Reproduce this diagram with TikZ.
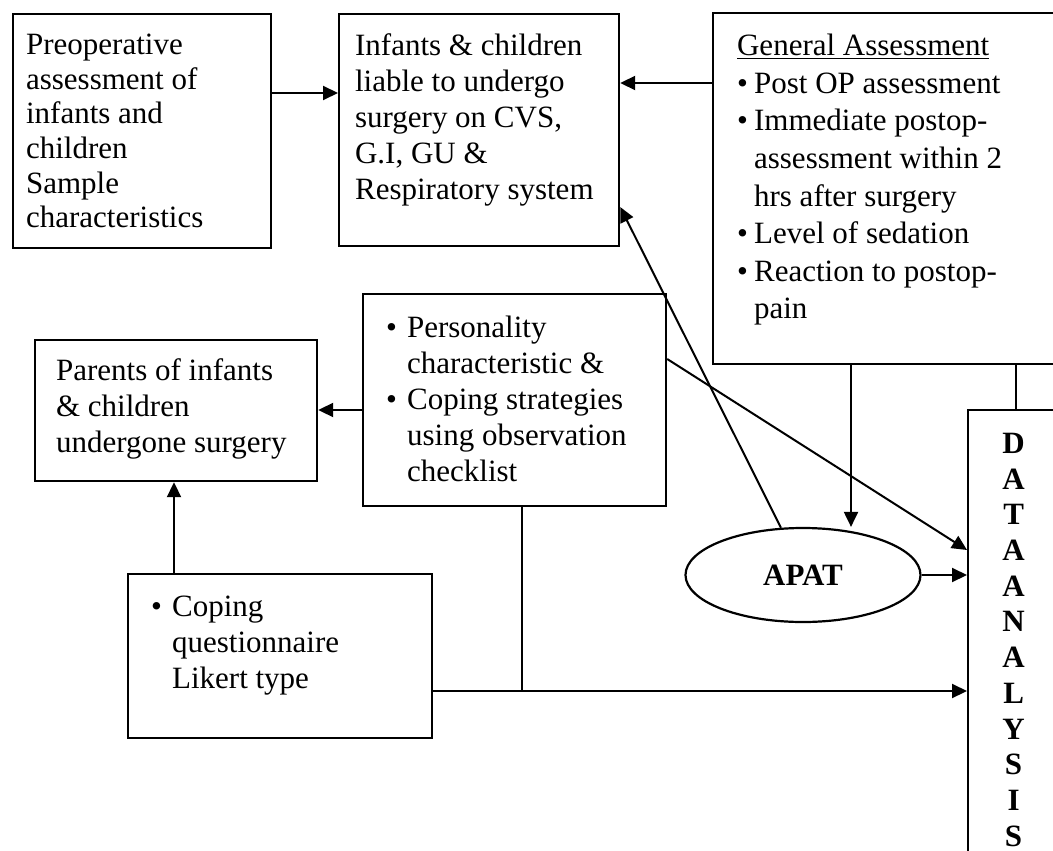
\documentclass[tikz,border=0pt]{standalone}
\usepackage{fontspec}
\setmainfont{Liberation Serif}
\usepackage{tikz}
\usetikzlibrary{shapes.geometric,arrows.meta,calc}

\newlength{\bulw}
\setlength{\bulw}{10.5pt}
\newcommand{\bul}{\makebox[\bulw][l]{\textbullet}}
\newcommand{\ind}{\hspace*{\bulw}}
\newcommand{\boxtext}[3]{\parbox[t][#1][t]{#2}{\raggedright #3}}

\begin{document}
\begin{tikzpicture}[x=0.5pt,y=-0.5pt,
    font=\fontsize{15.5}{18}\selectfont,
    block/.style={draw, line width=1.1pt, anchor=north west},
    arr/.style={line width=1pt, -{Triangle[length=7.5pt,width=7pt]}},
    link/.style={line width=1pt}]

     \useasboundingbox (0,0) rectangle (1053,850);
     \clip (0,0) rectangle (1053,850);

     \node[block, inner xsep=6.5pt, inner ysep=10pt, font=\fontsize{15.5}{17.3}\selectfont] (preop) at (12,13)
       {\boxtext{97pt}{116pt}{Preoperative\\ assessment of\\ infants and\\ children\\ Sample\\ characteristics}};
     \node[block, inner xsep=8pt, inner ysep=10pt] (infants) at (338,13)
       {\boxtext{96pt}{124pt}{Infants \& children\\ liable to undergo\\ surgery on CVS,\\ G.I, GU \&\\ Respiratory system}};
     \node[block, inner xsep=12pt, inner ysep=10.5pt, font=\fontsize{15.5}{18.8}\selectfont] (genass) at (712,12)
       {\setlength{\bulw}{8.5pt}\boxtext{154.5pt}{149pt}{\underline{General Assessment}\\
        \bul Post OP assessment\\ \bul Immediate postop-\\ \ind assessment within 2\\ \ind hrs after surgery\\
        \bul Level of sedation\\ \bul Reaction to postop-\\ \ind pain}};
     \node[block, inner xsep=10.5pt, inner ysep=9.5pt] (parents) at (34,339)
       {\boxtext{51.5pt}{120pt}{Parents of infants\\ \& children\\ undergone surgery}};
     \node[block, inner xsep=11.5pt, inner ysep=11pt] (personal) at (362,293)
       {\boxtext{84pt}{128.5pt}{\bul Personality\\ \ind characteristic \&\\ \bul Coping strategies\\ \ind using observation\\ \ind checklist}};
     \node[block, inner xsep=11.5pt, inner ysep=11pt] (coping) at (127,573)
       {\boxtext{60pt}{129pt}{\bul Coping\\ \ind questionnaire\\ \ind Likert type}};
     \node[draw, ellipse, line width=1.1pt, minimum width=117.5pt, minimum height=47pt, inner sep=0pt,
       font=\fontsize{15.5}{18}\selectfont\bfseries] (apat) at (803,575) {APAT};
     % analysis box runs off the page
     \node[block, inner xsep=0pt, inner ysep=11.5pt, font=\fontsize{15.5}{17.85}\selectfont\bfseries] (data) at (967,409)
       {\parbox[t][222.5pt][t]{45.5pt}{\centering D\\ A\\ T\\ A\\ A\\ N\\ A\\ L\\ Y\\ S\\ I\\ S}};

     \draw[arr] ($(preop.north east)+(0,80)$) coordinate (pi) -- (pi -| infants.west);
     \draw[arr] ($(genass.north west)+(0,71)$) coordinate (gi) -- (gi -| infants.east);
     \draw[arr] ($(personal.north west)+(0,117)$) coordinate (pd) -- (pd -| parents.east);
     \draw[arr] ($(coping.north west)+(47,0)$) coordinate (cp) -- (cp |- parents.south);
     \draw[arr] ($(genass.south west)+(139,0)$) coordinate (ga) -- (ga |- apat.north);
     \draw[link] ($(genass.south west)+(304,0)$) coordinate (gd) -- (gd |- data.north);
     \draw[arr] ($(personal.north east)+(0,66)$) -- ($(data.north west)+(0,141)$);
     \draw[arr] (apat.115) -- ($(infants.north east)+(0,194)$);
     \draw[arr] (apat.east) -- (apat.east -| data.west);
     % coping and checklist both feed the analysis
     \draw[arr] ($(coping.north east)+(0,118)$) coordinate (cj) -- (cj -| data.west);
     \draw[link] ($(personal.south west)+(160,0)$) coordinate (pj) -- (pj |- cj);
  \end{tikzpicture}
\end{document}
